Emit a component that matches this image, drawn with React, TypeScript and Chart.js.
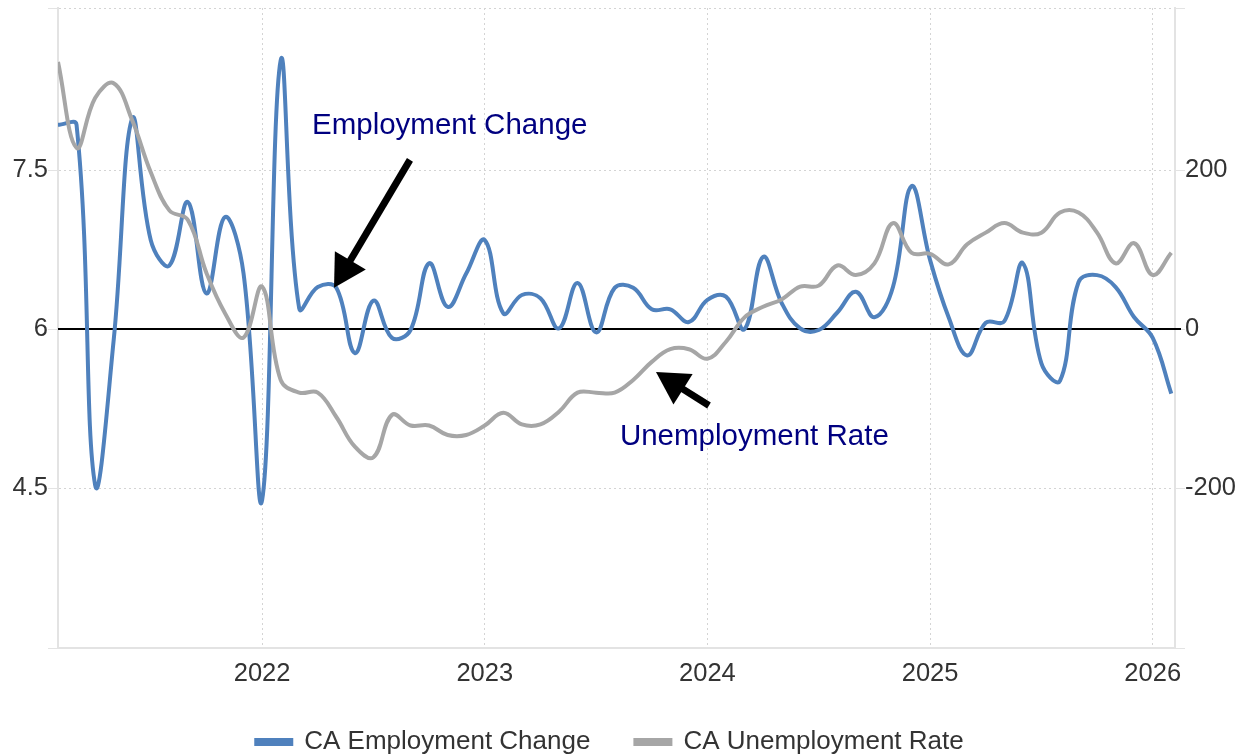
import React, { useEffect, useRef } from "react";
import { Chart, registerables } from "chart.js";

Chart.register(...registerables);

// ---- Data (monthly) ----
const months = [
  "2021-02", "2021-03", "2021-04", "2021-05", "2021-06", "2021-07", "2021-08", "2021-09", "2021-10", "2021-11", "2021-12",
  "2022-01", "2022-02", "2022-03", "2022-04", "2022-05", "2022-06", "2022-07", "2022-08", "2022-09", "2022-10", "2022-11", "2022-12",
  "2023-01", "2023-02", "2023-03", "2023-04", "2023-05", "2023-06", "2023-07", "2023-08", "2023-09", "2023-10", "2023-11", "2023-12",
  "2024-01", "2024-02", "2024-03", "2024-04", "2024-05", "2024-06", "2024-07", "2024-08", "2024-09", "2024-10", "2024-11", "2024-12",
  "2025-01", "2025-02", "2025-03", "2025-04", "2025-05", "2025-06", "2025-07", "2025-08", "2025-09", "2025-10", "2025-11", "2025-12",
  "2026-01", "2026-02",
];

// CA Employment Change (thousands, right axis)
const employmentChange = [
  257, 257, -196, -14, 265, 112, 80, 160, 45, 141, 70,
  -215, 338, 26, 53, 52, -30, 36, -11, -1, 83, 28, 70,
  112, 20, 43, 39, 1, 58, -4, 52, 52, 25, 25, 9,
  37, 41, 0, 91, 33, 1, -1, 21, 47, 15, 53, 180,
  87, 15, -33, 8, 10, 83, -43, -65, 59, 68, 53, 15,
  -11, -81,
];

// CA Unemployment Rate (%, left axis)
const unemploymentRate = [
  8.52, 7.71, 8.18, 8.32, 7.97, 7.48, 7.12, 7.03, 6.53, 6.15, 5.92,
  6.4, 5.52, 5.4, 5.4, 5.17, 4.89, 4.79, 5.19, 5.09, 5.09, 5.0, 5.0,
  5.09, 5.21, 5.1, 5.1, 5.22, 5.4, 5.4, 5.4, 5.52, 5.69, 5.81, 5.81,
  5.72, 5.88, 6.11, 6.21, 6.28, 6.4, 6.41, 6.6, 6.51, 6.62, 7.0, 6.72,
  6.71, 6.61, 6.8, 6.91, 7.0, 6.91, 6.91, 7.1, 7.1, 6.91, 6.62, 6.81,
  6.51, 6.72,
];

const yearTicks = [2022, 2023, 2024, 2025, 2026];
const rateTicks = [4.5, 6, 7.5];
const changeTicks = [-200, 0, 200];

const seriesNames = ["CA Employment Change", "CA Unemployment Rate"];

// Annotations in data coordinates (x: decimal year, y: right-axis value)
const annotationTexts = [
  { text: "Employment Change", x: 2022.224, y: 246 },
  { text: "Unemployment Rate", x: 2023.607, y: -146 },
];
const annotationArrows = [
  { fromX: 2022.664, fromY: 213, toX: 2022.323, toY: 52 },
  { fromX: 2024.007, fromY: -96, toX: 2023.769, toY: -54 },
];

const X_MIN = 2021 + 1 / 12;
const X_MAX = 2026.1;
const RATE_MIN = 2.99;
const RATE_MAX = 9.03;
const CHANGE_MIN = -401;
const CHANGE_MAX = 404;

const toYear = (m: string) => {
  const [y, mo] = m.split("-").map(Number);
  return y + (mo - 1) / 12;
};

const FONT = "'Liberation Sans', Arial, Helvetica, sans-serif";
const BLUE = "#4f81bd";
const GRAY = "#a6a6a6";
const GRID = "#d4d4d4";
const AXIS = "#e3e3e3";

function drawArrow(ctx: CanvasRenderingContext2D, x1: number, y1: number, x2: number, y2: number) {
  const headLen = 32;
  const headHalf = 18;
  const dx = x2 - x1;
  const dy = y2 - y1;
  const len = Math.hypot(dx, dy);
  const ux = dx / len;
  const uy = dy / len;
  const bx = x2 - ux * headLen;
  const by = y2 - uy * headLen;
  ctx.save();
  ctx.strokeStyle = "#000";
  ctx.fillStyle = "#000";
  ctx.lineWidth = 7;
  ctx.lineCap = "butt";
  ctx.beginPath();
  ctx.moveTo(x1, y1);
  ctx.lineTo(bx + ux * 2, by + uy * 2);
  ctx.stroke();
  ctx.beginPath();
  ctx.moveTo(x2, y2);
  ctx.lineTo(bx - uy * headHalf, by + ux * headHalf);
  ctx.lineTo(bx + uy * headHalf, by - ux * headHalf);
  ctx.closePath();
  ctx.fill();
  ctx.restore();
}

const overlayPlugin = {
  id: "overlay",
  afterLayout(chart: any) {
    // centre the legend row a little left of the canvas centre, as in the source
    const lg = chart.legend;
    if (lg) {
      lg.right -= 30;
      lg.width -= 30;
    }
  },
  beforeDatasetsDraw(chart: any) {
    const ctx = chart.ctx as CanvasRenderingContext2D;
    const area = chart.chartArea;
    const y = Math.round(chart.scales.yRight.getPixelForValue(0));
    ctx.save();
    ctx.strokeStyle = "#000";
    ctx.lineWidth = 2;
    ctx.beginPath();
    ctx.moveTo(area.left, y);
    ctx.lineTo(area.right + 6, y);
    ctx.stroke();
    ctx.restore();
  },
  afterDraw(chart: any) {
    const ctx = chart.ctx as CanvasRenderingContext2D;
    const xs = chart.scales.x;
    const ys = chart.scales.yRight;
    ctx.save();
    ctx.fillStyle = "#000080";
    ctx.font = `29.5px ${FONT}`;
    ctx.textAlign = "left";
    ctx.textBaseline = "alphabetic";
    annotationTexts.forEach((a) => {
      ctx.fillText(a.text, xs.getPixelForValue(a.x), ys.getPixelForValue(a.y));
    });
    ctx.restore();
    annotationArrows.forEach((a) => {
      drawArrow(
        ctx,
        xs.getPixelForValue(a.fromX),
        ys.getPixelForValue(a.fromY),
        xs.getPixelForValue(a.toX),
        ys.getPixelForValue(a.toY)
      );
    });
  },
};

export default function App() {
  const canvasRef = useRef<HTMLCanvasElement | null>(null);

  useEffect(() => {
    document.body.style.margin = "0";
    const canvas = canvasRef.current;
    if (!canvas) return;
    const xVals = months.map(toYear);
    const tickFont = { size: 25.5, family: FONT };
    const yTickFont = { size: 25.5, family: FONT, lineHeight: 0.5 };

    const chart = new Chart(canvas, {
      type: "line",
      data: {
        datasets: [
          {
            label: seriesNames[0],
            data: xVals.map((x, i) => ({ x, y: employmentChange[i] })),
            yAxisID: "yRight",
            borderColor: BLUE,
            backgroundColor: BLUE,
            borderWidth: 4,
            pointRadius: 0,
            tension: 0.4,
            order: 1,
          },
          {
            label: seriesNames[1],
            data: xVals.map((x, i) => ({ x, y: unemploymentRate[i] })),
            yAxisID: "yLeft",
            borderColor: GRAY,
            backgroundColor: GRAY,
            borderWidth: 4,
            pointRadius: 0,
            tension: 0.4,
            order: 0,
          },
        ],
      },
      options: {
        responsive: false,
        animation: false,
        devicePixelRatio: 1,
        layout: { padding: { top: 8, right: 0, bottom: -9, left: 0 } },
        plugins: {
          legend: {
            position: "bottom",
            labels: {
              boxWidth: 35,
              boxHeight: 4,
              padding: 45,
              color: "#333",
              font: { size: 26, family: FONT },
              sort: (a: any, b: any) => a.datasetIndex - b.datasetIndex,
            },
          },
          tooltip: { enabled: false },
        },
        scales: {
          x: {
            type: "linear",
            min: X_MIN,
            max: X_MAX,
            afterBuildTicks: (s: any) => {
              s.ticks = yearTicks.map((v) => ({ value: v }));
            },
            afterFit: (s: any) => {
              s.height = 36;
            },
            ticks: {
              color: "#333",
              font: tickFont,
              padding: 11,
              maxRotation: 0,
              autoSkip: false,
              callback: (v: any) => String(v),
            },
            grid: { color: GRID, lineWidth: 1, drawTicks: false },
            border: { display: true, color: AXIS, width: 2, dash: [2, 3] },
          },
          yLeft: {
            type: "linear",
            position: "left",
            min: RATE_MIN,
            max: RATE_MAX,
            afterBuildTicks: (s: any) => {
              s.ticks = [RATE_MIN, ...rateTicks, RATE_MAX].map((v) => ({ value: v }));
            },
            afterFit: (s: any) => {
              s.width = 58;
            },
            ticks: {
              color: "#333",
              font: yTickFont,
              padding: 0,
              callback: (v: any) => (rateTicks.includes(v) ? String(v) : ""),
            },
            grid: {
              color: GRID,
              lineWidth: 1,
              drawTicks: true,
              tickLength: 10,
              tickColor: AXIS,
              tickWidth: 1,
            },
            border: { display: true, color: AXIS, width: 2, dash: [2, 3] },
          },
          yRight: {
            type: "linear",
            position: "right",
            min: CHANGE_MIN,
            max: CHANGE_MAX,
            afterBuildTicks: (s: any) => {
              s.ticks = [CHANGE_MIN, ...changeTicks, CHANGE_MAX].map((v) => ({ value: v }));
            },
            afterFit: (s: any) => {
              s.width = 75;
            },
            ticks: {
              color: "#333",
              font: yTickFont,
              padding: 0,
              callback: (v: any) => (changeTicks.includes(v) ? String(v) : ""),
            },
            grid: {
              drawOnChartArea: false,
              drawTicks: true,
              tickLength: 10,
              tickColor: AXIS,
              tickWidth: 1,
            },
            border: { display: true, color: AXIS, width: 2 },
          },
        },
      },
      plugins: [overlayPlugin],
    } as any);

    return () => {
      chart.destroy();
    };
  }, []);

  return (
    <div style={{ width: 1250, height: 756, background: "#fff" }}>
      <canvas ref={canvasRef} width={1250} height={756} style={{ display: "block" }} />
    </div>
  );
}
